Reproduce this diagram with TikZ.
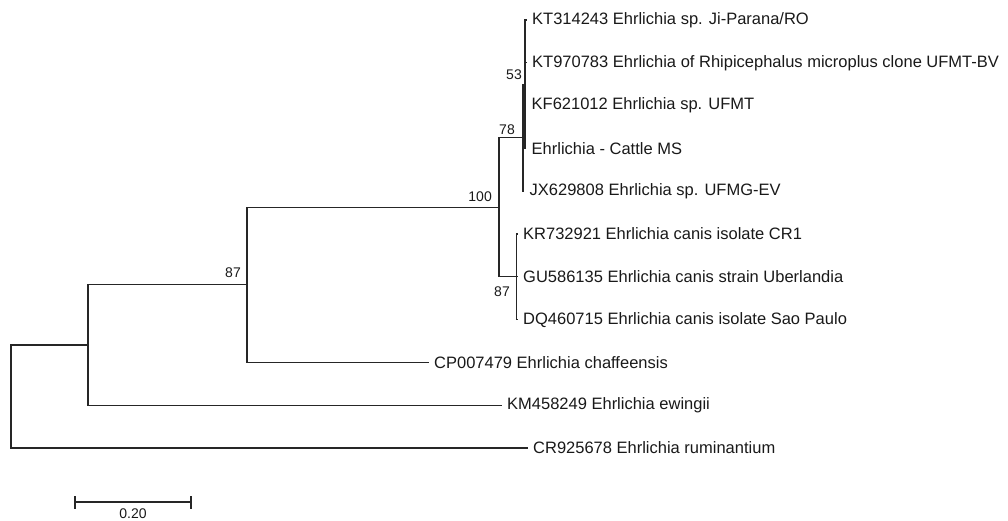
\documentclass[tikz,border=0pt]{standalone}
\usepackage{fontspec}
\setmainfont{Liberation Sans}
\begin{document}
\begin{tikzpicture}[x=1pt,y=-1pt,
  br/.style={draw=black!85, line width=1.3pt, line cap=rect},
  leaf/.style={anchor=west, inner xsep=6pt, inner ysep=0pt, text=black!90, font=\fontsize{16.5}{18}\selectfont},
  bs/.style={inner sep=0pt, text=black!90, font=\fontsize{14}{16}\selectfont},
]
\useasboundingbox (0,0) rectangle (1008,521);
% internal nodes
\coordinate (F) at (525,84.2);
\coordinate (D) at (523,137.7);
\coordinate (E) at (516.5,276.8);
\coordinate (C) at (499,207.3);
\coordinate (B) at (247,284.8);
\coordinate (A) at (88,345);
\coordinate (R) at (11,396.5);
% leaves
\node[leaf] (l0) at (526,20) {KT314243 Ehrlichia sp. Ji-Parana/RO};
\node[leaf] (l1) at (526,62.8) {KT970783 Ehrlichia of Rhipicephalus microplus clone UFMT-BV};
\node[leaf] (l2) at (525.5,105.6) {KF621012 Ehrlichia sp. UFMT};
\node[leaf] (l3) at (525.5,148.4) {Ehrlichia - Cattle MS};
\node[leaf] (l4) at (523.5,191.2) {JX629808 Ehrlichia sp. UFMG-EV};
\node[leaf] (l5) at (517,234) {KR732921 Ehrlichia canis isolate CR1};
\node[leaf] (l6) at (517,276.8) {GU586135 Ehrlichia canis strain Uberlandia};
\node[leaf] (l7) at (517,319.6) {DQ460715 Ehrlichia canis isolate Sao Paulo};
\node[leaf] (l8) at (428,362.4) {CP007479 Ehrlichia chaffeensis};
\node[leaf] (l9) at (501,405.2) {KM458249 Ehrlichia ewingii};
\node[leaf] (l10) at (527,448) {CR925678 Ehrlichia ruminantium};
% clade F (polytomy)
\draw[br] (F |- l0) -- (F |- l3);
\foreach \i in {0,1,2,3} \draw[br] (F |- l\i) -- (l\i.west);
% D
\draw[br] (D |- F) -- (D |- l4);
\draw[br] (D |- F) -- (F);
\draw[br] (D |- l4) -- (l4.west);
% E (polytomy)
\draw[br] (E |- l5) -- (E |- l7);
\foreach \i in {5,6,7} \draw[br] (E |- l\i) -- (l\i.west);
% C
\draw[br] (C |- D) -- (C |- E);
\draw[br] (C |- D) -- (D);
\draw[br] (C |- E) -- (E);
% B
\draw[br] (B |- C) -- (B |- l8);
\draw[br] (B |- C) -- (C);
\draw[br] (B |- l8) -- (l8.west);
% A
\draw[br] (A |- B) -- (A |- l9);
\draw[br] (A |- B) -- (B);
\draw[br] (A |- l9) -- (l9.west);
% root
\draw[br] (R |- A) -- (R |- l10);
\draw[br] (R |- A) -- (A);
\draw[br] (R |- l10) -- (l10.west);
% bootstrap values
\node[bs, anchor=south east] (b53) at ([shift={(-3,-4)}]F) {53};
\node[bs, anchor=south east] (b78) at ([shift={(-8,-3)}]D) {78};
\node[bs, anchor=south east] (b100) at ([shift={(-7,-5)}]C) {100};
\node[bs, anchor=north east] (b87a) at ([shift={(-6.5,10)}]E) {87};
\node[bs, anchor=south east] (b87b) at ([shift={(-6,-7)}]B) {87};
% scale bar
\coordinate (s0) at (75,502);
\coordinate (s1) at (191,502);
\coordinate (sm) at (133,509);
\draw[br] (s0) -- (s1);
\draw[br] ([yshift=5pt]s0) -- ([yshift=-6pt]s0);
\draw[br] ([yshift=5pt]s1) -- ([yshift=-6pt]s1);
\node[bs, anchor=north] (sl) at (sm) {0.20};
\end{tikzpicture}
\end{document}
